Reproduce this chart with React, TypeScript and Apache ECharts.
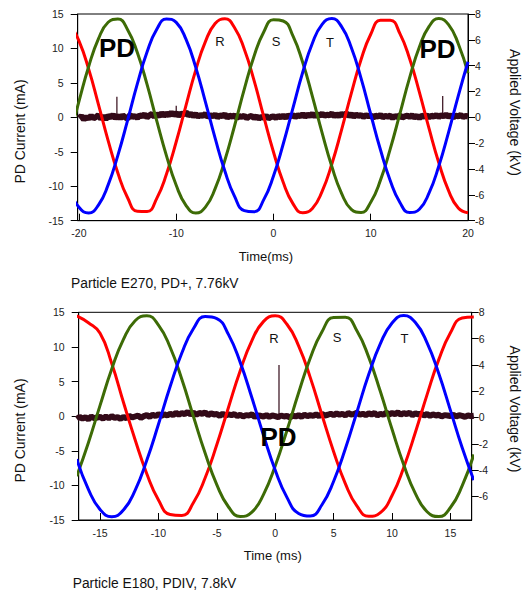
import React, { useEffect, useRef } from 'react';
import * as echarts from 'echarts';

const FONT = '"Liberation Sans", Arial, Helvetica, sans-serif';

// ---------- Top chart (Particle E270, PD+, 7.76kV) ----------
const topTime = [-21, -20, -19, -18, -17, -16, -15, -14, -13, -12, -11, -10, -9, -8, -7, -6, -5, -4, -3, -2, -1, 0, 1, 2, 3, 4, 5, 6, 7, 8, 9, 10, 11, 12, 13, 14, 15, 16, 17, 18, 19, 20];
const topRed = [7.29, 5.92, 3.73, 1.01, -1.8, -4.31, -6.22, -7.26, -7.28, -6.27, -4.39, -1.89, 0.91, 3.64, 5.86, 7.26, 7.64, 6.94, 5.27, 2.86, 0.05, -2.68, -5.03, -6.68, -7.38, -7.05, -5.73, -3.61, -0.97, 1.86, 4.46, 6.43, 7.51, 7.52, 6.48, 4.53, 1.95, -0.88, -3.52, -5.67, -7.02, -7.39];
const topGreen = [-1.57, 1.24, 3.94, 6.07, 7.36, 7.61, 6.79, 5.02, 2.55, -0.28, -2.98, -5.26, -6.81, -7.4, -6.95, -5.52, -3.32, -0.65, 2.18, 4.73, 6.61, 7.56, 7.46, 6.3, 4.26, 1.62, -1.2, -3.81, -5.88, -7.12, -7.36, -6.57, -4.86, -2.46, 0.29, 3.08, 5.44, 7.04, 7.65, 7.18, 5.7, 3.43];
const topBlue = [-5.55, -6.96, -7.4, -6.79, -5.23, -2.94, -0.23, 2.59, 5.06, 6.82, 7.62, 7.35, 6.05, 3.89, 1.2, -1.61, -4.16, -6.12, -7.22, -7.31, -6.37, -4.54, -2.06, 0.72, 3.47, 5.74, 7.2, 7.65, 7.02, 5.41, 3.04, 0.24, -2.51, -4.89, -6.59, -7.37, -7.11, -5.85, -3.77, -1.16, 1.67, 4.3];
const topNoiseStart = -20;
const topNoiseStep = 0.25;
const topNoise = [
  -0.1, 0.2, -0.3, 0.1, -0.2, 0.25, -0.15, 0.05,
  0.3, -0.2, 0.15, -0.25, 0.2, 0.0, 0.35, -0.1,
  0.25, -0.15, 0.3, 0.0, -0.2, 0.35, 0.05, 0.2,
  -0.1, 0.3, 0.15, 0.45, 0.0, 0.3, 0.5, 0.1,
  0.45, 0.2, 0.6, 0.25, 0.55, 0.3, 0.7, 0.35,
  0.6, 0.25, 0.55, 0.4, 0.75, 0.3, 0.5, 0.2,
  0.45, 0.1, 0.35, 0.2, 0.5, 0.05, 0.3, 0.15,
  0.4, 0.0, 0.3, 0.15, 0.45, -0.05, 0.25, 0.1,
  0.3, -0.1, 0.2, 0.05, 0.25, -0.15, 0.1, 0.2,
  -0.1, 0.15, -0.2, 0.1, -0.05, 0.2, -0.15, 0.05,
  0.15, -0.1, 0.2, 0.0, 0.25, -0.05, 0.3, 0.1,
  0.35, 0.05, 0.3, 0.15, 0.45, 0.1, 0.4, 0.2,
  0.5, 0.15, 0.45, 0.25, 0.55, 0.2, 0.4, 0.3,
  0.55, 0.15, 0.45, 0.2, 0.5, 0.3, 0.6, 0.2,
  0.45, 0.1, 0.4, 0.2, 0.35, 0.05, 0.3, 0.15,
  0.3, -0.05, 0.25, 0.1, 0.35, 0.0, 0.2, 0.1,
  0.25, -0.1, 0.2, 0.05, 0.3, -0.05, 0.15, 0.25,
  0.05, 0.3, 0.0, 0.2, -0.1, 0.25, 0.1, 0.3,
  0.0, 0.25, 0.1, 0.35, 0.05, 0.3, 0.15, 0.4,
  0.1, 0.3, 0.0, 0.25, 0.15, 0.35, 0.05, 0.2,
  0.15,
];
const topSpikeT = [-16.1, -10.0, 17.4];
const topSpikeLo = [0.0, 0.4, 0.2];
const topSpikeHi = [3.0, 1.7, 3.1];
const topXTicks = [-20, -10, 0, 10, 20];

// ---------- Bottom chart (Particle E180, PDIV, 7.8kV) ----------
const botTime = [-17, -16, -15, -14, -13, -12, -11, -10, -9, -8, -7, -6, -5, -4, -3, -2, -1, 0, 1, 2, 3, 4, 5, 6, 7, 8, 9, 10, 11, 12, 13, 14, 15, 16, 17];
const botRed = [7.72, 7.2, 6.4, 4.1, 1.16, -1.69, -4.28, -6.27, -7.38, -7.45, -6.47, -4.59, -2.06, 0.78, 3.56, 5.85, 7.31, 7.74, 7.09, 5.45, 3.03, 0.19, -2.6, -5.03, -6.75, -7.52, -7.24, -5.94, -3.8, -1.13, 1.74, 4.4, 6.44, 7.57, 7.65];
const botGreen = [-4.47, -1.92, 0.92, 3.69, 5.94, 7.36, 7.74, 7.03, 5.34, 2.9, 0.05, -2.73, -5.13, -6.81, -7.53, -7.2, -5.85, -3.68, -0.99, 1.88, 4.52, 6.52, 7.6, 7.62, 6.57, 4.59, 1.97, -0.9, -3.6, -5.79, -7.17, -7.54, -6.85, -5.21, -2.82];
const botBlue = [-3.17, -5.47, -7.0, -7.55, -7.04, -5.54, -3.26, -0.52, 2.35, 4.9, 6.77, 7.68, 7.52, 6.3, 4.19, 1.5, -1.37, -4.01, -6.08, -7.3, -7.5, -6.64, -4.85, -2.38, 0.44, 3.26, 5.61, 7.19, 7.75, 7.22, 5.68, 3.34, 0.54, -2.29, -4.77];
const botNoiseStart = -17;
const botNoiseStep = 0.25;
const botNoise = [
  -0.4, -0.1, -0.35, -0.15, -0.45, -0.05, -0.3, -0.2,
  -0.1, -0.35, -0.05, -0.3, 0.0, -0.25, -0.15, -0.4,
  -0.1, -0.3, 0.05, -0.2, -0.05, 0.1, -0.25, 0.0,
  0.15, -0.1, 0.2, 0.0, 0.3, 0.05, 0.25, 0.1,
  0.35, 0.15, 0.5, 0.2, 0.45, 0.3, 0.6, 0.25,
  0.5, 0.2, 0.45, 0.35, 0.55, 0.15, 0.4, 0.25,
  0.3, 0.05, 0.35, 0.1, 0.25, 0.15, 0.3, 0.0,
  0.2, -0.05, 0.15, 0.1, 0.25, -0.1, 0.1, 0.05,
  -0.05, 0.15, -0.1, 0.1, 0.0, -0.15, 0.1, -0.05,
  0.05, -0.2, 0.1, -0.05, 0.15, -0.1, 0.2, 0.0,
  0.15, 0.05, 0.25, 0.0, 0.3, 0.1, 0.2, 0.35,
  0.15, 0.4, 0.2, 0.35, 0.1, 0.45, 0.25, 0.3,
  0.5, 0.2, 0.35, 0.15, 0.4, 0.25, 0.45, 0.1,
  0.35, 0.2, 0.5, 0.25, 0.45, 0.3, 0.55, 0.2,
  0.45, 0.3, 0.5, 0.15, 0.4, 0.25, 0.35, 0.1,
  0.3, 0.05, 0.25, 0.1, 0.2, -0.05, 0.15, 0.1,
  0.0, 0.2, -0.05, 0.15, 0.05, -0.1, 0.1, 0.0,
  0.05,
];
const botSpikeT = [0.32];
const botSpikeLo = [-0.3];
const botSpikeHi = [7.4];
const botXTicks = [-15, -10, -5, 0, 5, 10, 15];
const botRightTicks = [-6, -4, -2, 0, 2, 4, 6, 8];

const RED = '#ff0000';
const GREEN = '#3d6b06';
const BLUE = '#0000ff';
const NOISE = '#330a18';
const TICK_COLOR = '#222';

function pairs(ts: number[], vs: number[]) {
  return ts.map((t, i) => [t, vs[i]]);
}
function noisePairs(start: number, step: number, vs: number[]) {
  return vs.map((v, i) => [start + i * step, v]);
}

function waveSeries(name: string, color: string, data: number[][], xi: number, yi: number) {
  return {
    name,
    type: 'line',
    xAxisIndex: xi,
    yAxisIndex: yi,
    data,
    smooth: true,
    symbol: 'none',
    silent: true,
    lineStyle: { color, width: 3 },
    z: 3,
  };
}

function spikeSeries(ts: number[], lo: number[], hi: number[], xi: number, yi: number) {
  return ts.map((t, i) => ({
    type: 'line',
    xAxisIndex: xi,
    yAxisIndex: yi,
    data: [[t, lo[i]], [t, hi[i]]],
    symbol: 'none',
    silent: true,
    lineStyle: { color: NOISE, width: 1.2 },
    z: 2,
  }));
}

function xAxisCfg(gridIndex: number, min: number, max: number, ticks: number[], margin: number) {
  return {
    type: 'value',
    gridIndex,
    min,
    max,
    axisLine: { show: true, onZero: false, lineStyle: { color: '#000', width: 1 } },
    axisTick: { show: true, inside: true, length: 7, customValues: ticks, lineStyle: { color: '#000' } },
    axisLabel: { customValues: ticks, margin, fontSize: 10.5, color: TICK_COLOR, fontFamily: FONT },
    splitLine: { show: false },
  };
}

function yAxisCfg(gridIndex: number, position: string, min: number, max: number, interval: number | null, margin: number, custom?: number[]) {
  const cfg: any = {
    type: 'value',
    gridIndex,
    position,
    min,
    max,
    axisLine: { show: true, onZero: false, lineStyle: { color: '#000', width: 1 } },
    axisTick: { show: true, inside: false, length: 7, lineStyle: { color: '#000' } },
    axisLabel: { margin, fontSize: 10.5, color: TICK_COLOR, fontFamily: FONT },
    splitLine: { show: false },
  };
  if (interval !== null) cfg.interval = interval;
  if (custom) {
    cfg.axisTick.customValues = custom;
    cfg.axisLabel.customValues = custom;
  }
  return cfg;
}

function txt(text: string, x: number, y: number, size: number, opts: any = {}) {
  return {
    type: 'text',
    x,
    y,
    rotation: opts.rotation || 0,
    silent: true,
    z: 10,
    style: {
      text,
      fill: opts.fill || '#111',
      fontSize: size,
      fontWeight: opts.bold ? 'bold' : 'normal',
      fontFamily: FONT,
      textAlign: opts.align || 'center',
      textVerticalAlign: 'middle',
    },
  };
}

export default function App() {
  const ref = useRef<HTMLDivElement>(null);
  useEffect(() => {
    if (!ref.current) return;
    const chart = echarts.init(ref.current, null, { renderer: 'svg' });
    const option: any = {
      animation: false,
      backgroundColor: '#fff',
      grid: [
        { left: 77.7, top: 14, width: 390.3, height: 206.7, show: true, borderColor: '#000', borderWidth: 1, backgroundColor: 'transparent' },
        { left: 78.7, top: 312.3, width: 393, height: 207.7, show: true, borderColor: '#000', borderWidth: 1, backgroundColor: 'transparent' },
      ],
      xAxis: [
        xAxisCfg(0, -20.13, 20, topXTicks, 6.5),
        xAxisCfg(1, -16.83, 16.82, botXTicks, 7),
      ],
      yAxis: [
        yAxisCfg(0, 'left', -15, 15, 5, 14),
        yAxisCfg(0, 'right', -8, 8, 2, 7),
        yAxisCfg(1, 'left', -15, 15, 5, 14),
        yAxisCfg(1, 'right', -7.8, 8, null, 7, botRightTicks),
      ],
      series: [
        {
          type: 'line', xAxisIndex: 0, yAxisIndex: 0,
          data: noisePairs(topNoiseStart, topNoiseStep, topNoise),
          symbol: 'none', silent: true, lineStyle: { color: NOISE, width: 6 }, z: 1,
        },
        ...spikeSeries(topSpikeT, topSpikeLo, topSpikeHi, 0, 0),
        waveSeries('R', RED, pairs(topTime, topRed), 0, 1),
        waveSeries('S', GREEN, pairs(topTime, topGreen), 0, 1),
        waveSeries('T', BLUE, pairs(topTime, topBlue), 0, 1),
        {
          type: 'line', xAxisIndex: 1, yAxisIndex: 2,
          data: noisePairs(botNoiseStart, botNoiseStep, botNoise),
          symbol: 'none', silent: true, lineStyle: { color: NOISE, width: 6 }, z: 1,
        },
        ...spikeSeries(botSpikeT, botSpikeLo, botSpikeHi, 1, 2),
        waveSeries('R2', RED, pairs(botTime, botRed), 1, 3),
        waveSeries('S2', GREEN, pairs(botTime, botGreen), 1, 3),
        waveSeries('T2', BLUE, pairs(botTime, botBlue), 1, 3),
      ],
      graphic: [
        // top chart
        txt('PD', 117, 48, 26, { bold: true, fill: '#000' }),
        txt('PD', 437.5, 48.5, 26, { bold: true, fill: '#000' }),
        txt('R', 220, 41.5, 13),
        txt('S', 276, 41.5, 13),
        txt('T', 330, 42, 13),
        txt('PD Current (mA)', 20, 131.5, 14, { rotation: Math.PI / 2 }),
        txt('Applied Voltage (kV)', 514.5, 112.5, 14, { rotation: -Math.PI / 2 }),
        txt('Time(ms)', 266, 256.5, 13),
        txt('Particle E270, PD+, 7.76kV', 71, 283.5, 13.8, { align: 'left' }),
        // bottom chart
        txt('R', 274, 338.5, 13),
        txt('S', 337, 337, 13),
        txt('T', 404.5, 338.5, 13),
        txt('PD', 278.5, 437, 26, { bold: true, fill: '#000' }),
        txt('PD Current (mA)', 20, 430.5, 14, { rotation: Math.PI / 2 }),
        txt('Applied Voltage (kV)', 514.5, 409, 14, { rotation: -Math.PI / 2 }),
        txt('Time (ms)', 272.7, 555.5, 13),
        txt('Particle E180, PDIV, 7.8kV', 72.7, 583.5, 13.8, { align: 'left' }),
      ],
    };
    chart.setOption(option);
    return () => chart.dispose();
  }, []);
  return (
    <div
      ref={ref}
      style={{ position: 'fixed', left: 0, top: 0, width: 522, height: 594, background: '#fff' }}
    />
  );
}
